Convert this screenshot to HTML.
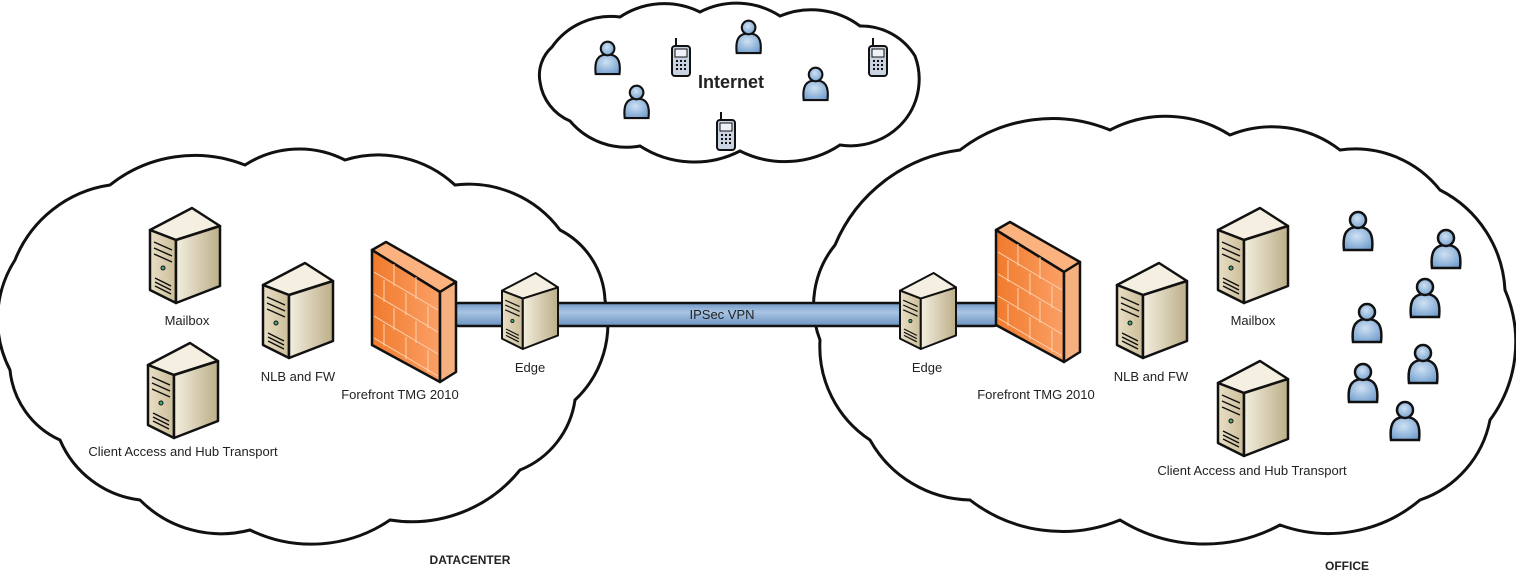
<!DOCTYPE html>
<html><head><meta charset="utf-8"><style>
html,body{margin:0;padding:0;background:#fff;}
svg{display:block;}
text{font-family:"Liberation Sans",sans-serif;font-size:13px;fill:#222;}
</style></head><body>
<svg width="1516" height="576" viewBox="0 0 1516 576" xmlns="http://www.w3.org/2000/svg">
<defs>
<linearGradient id="sf" x1="0" x2="1"><stop offset="0" stop-color="#e9dfc6"/><stop offset="1" stop-color="#cbbd98"/></linearGradient>
<linearGradient id="ss" x1="0" x2="1"><stop offset="0" stop-color="#f3eedf"/><stop offset="1" stop-color="#bcae88"/></linearGradient>
<linearGradient id="ff" x1="0" x2="1"><stop offset="0" stop-color="#f07a2c"/><stop offset="1" stop-color="#fba066"/></linearGradient>
<radialGradient id="pg" cx="0.45" cy="0.4" r="0.7"><stop offset="0" stop-color="#cfe1f3"/><stop offset="1" stop-color="#6d9bcc"/></radialGradient>
<linearGradient id="vp" x1="0" y1="0" x2="0" y2="1"><stop offset="0" stop-color="#6f97c6"/><stop offset="0.4" stop-color="#a9c4e3"/><stop offset="1" stop-color="#6a92c1"/></linearGradient>
<g id="srv" stroke="#111" stroke-width="2.5" stroke-linejoin="round">
<path d="M0 22 L42 0 L70 18 L26 32 Z" fill="#f4efe0"/>
<path d="M0 22 L26 32 L26 95 L0 82 Z" fill="url(#sf)"/>
<path d="M26 32 L70 18 L70 78 L26 95 Z" fill="url(#ss)"/>
<path d="M4 34 L22 42 M4 40 L22 48 M4 46 L22 54 M5 70 L21 78 M5 74 L21 82 M5 78 L21 86" stroke-width="1.5" fill="none"/>
<circle cx="13" cy="60" r="2" fill="#4a7" stroke-width="1"/>
</g>
<g id="fw" stroke="#111" stroke-width="2.5" stroke-linejoin="round">
<path d="M0 0 L14 -8 L84 32 L68 42 Z" fill="#fbb27e"/>
<path d="M0 0 L68 42 L68 132 L0 95 Z" fill="url(#ff)"/>
<path d="M68 42 L84 32 L84 122 L68 132 Z" fill="#f5b080"/>
<path d="M2 22 L66 60 M2 44 L66 82 M2 66 L66 104 M2 88 L66 126 M22 14 L22 36 M44 27 L44 49 M12 30 L12 52 M34 43 L34 65 M56 56 L56 78 M22 58 L22 80 M44 71 L44 93 M12 74 L12 96 M34 87 L34 109 M56 100 L56 122" stroke="#fcd2b0" stroke-width="1" fill="none"/>
</g>
<g id="per" stroke="#111" stroke-width="2.5">
<path d="M2 40 C0 22 6 17 16 17 C26 17 32 22 30 40 Z" fill="url(#pg)"/>
<circle cx="16" cy="10" r="8" fill="url(#pg)"/>
</g>
<g id="ph" stroke="#111" stroke-width="2">
<path d="M6 8 L6 0" fill="none"/>
<rect x="2" y="8" width="18" height="30" rx="3" fill="#c9d3e2"/>
<rect x="5" y="11" width="12" height="8" fill="#eef2f8" stroke-width="1"/>
<path d="M6 23h10M6 27h10M6 31h10" stroke-width="2" stroke-dasharray="2 2"/>
</g>
</defs>
<!-- clouds -->
<path d="M15 260 A121 121 0 0 1 110 185 A136 136 0 0 1 245 165 A100 100 0 0 1 345 160 A113 113 0 0 1 455 185 A114 114 0 0 1 560 230 A83 83 0 0 1 605 300 A104 104 0 0 1 575 400 A89 89 0 0 1 520 470 A139 139 0 0 1 390 520 A140 140 0 0 1 250 530 A114 114 0 0 1 140 500 A100 100 0 0 1 60 440 A86 86 0 0 1 10 370 A110 110 0 0 1 15 260 Z" fill="#fff" stroke="#111" stroke-width="3"/>
<path d="M835 245 A157 157 0 0 1 960 150 A151 151 0 0 1 1110 130 A120 120 0 0 1 1230 135 A111 111 0 0 1 1340 150 A108 108 0 0 1 1440 190 A119 119 0 0 1 1505 290 A131 131 0 0 1 1490 420 A106 106 0 0 1 1420 500 A142 142 0 0 1 1280 525 A160 160 0 0 1 1120 520 A151 151 0 0 1 970 500 A117 117 0 0 1 870 440 A112 112 0 0 1 820 340 A96 96 0 0 1 835 245 Z" fill="#fff" stroke="#111" stroke-width="3"/>
<path d="M552 47 A72 72 0 0 1 620 17 A80 80 0 0 1 700 12 A80 80 0 0 1 780 16 A81 81 0 0 1 860 26 A63 63 0 0 1 915 56 A66 66 0 0 1 905 120 A70 70 0 0 1 840 145 A100 100 0 0 1 740 151 A100 100 0 0 1 640 146 A74 74 0 0 1 570 121 A50 50 0 0 1 540 82 A38 38 0 0 1 552 47 Z" fill="#fff" stroke="#111" stroke-width="3"/>
<!-- VPN pipe -->
<rect x="448" y="303" width="556" height="23" rx="11" fill="url(#vp)" stroke="#111" stroke-width="2.5"/>
<!-- left -->
<use href="#srv" x="150" y="208"/>
<use href="#srv" x="263" y="263"/>
<use href="#srv" x="148" y="343"/>
<use href="#fw" x="372" y="250"/>
<use href="#srv" transform="translate(502,273) scale(0.8)"/>
<!-- right -->
<use href="#srv" transform="translate(900,273) scale(0.8)"/>
<use href="#fw" x="996" y="230"/>
<use href="#srv" x="1117" y="263"/>
<use href="#srv" x="1218" y="208"/>
<use href="#srv" x="1218" y="361"/>
<!-- people -->
<use href="#per" x="1342" y="210"/>
<use href="#per" x="1430" y="228"/>
<use href="#per" x="1409" y="277"/>
<use href="#per" x="1351" y="302"/>
<use href="#per" x="1407" y="343"/>
<use href="#per" x="1347" y="362"/>
<use href="#per" x="1389" y="400"/>
<use href="#per" transform="translate(594,40) scale(0.85)"/>
<use href="#per" transform="translate(735,19) scale(0.85)"/>
<use href="#per" transform="translate(623,84) scale(0.85)"/>
<use href="#per" transform="translate(802,66) scale(0.85)"/>
<use href="#ph" x="670" y="38"/>
<use href="#ph" x="867" y="38"/>
<use href="#ph" x="715" y="112"/>
<!-- labels -->
<text x="187" y="325" text-anchor="middle">Mailbox</text>
<text x="298" y="381" text-anchor="middle">NLB and FW</text>
<text x="183" y="456" text-anchor="middle">Client Access and Hub Transport</text>
<text x="400" y="399" text-anchor="middle">Forefront TMG 2010</text>
<text x="530" y="372" text-anchor="middle">Edge</text>
<text x="722" y="319" text-anchor="middle">IPSec VPN</text>
<text x="927" y="372" text-anchor="middle">Edge</text>
<text x="1036" y="399" text-anchor="middle">Forefront TMG 2010</text>
<text x="1151" y="381" text-anchor="middle">NLB and FW</text>
<text x="1253" y="325" text-anchor="middle">Mailbox</text>
<text x="1252" y="475" text-anchor="middle">Client Access and Hub Transport</text>
<text x="731" y="88" text-anchor="middle" style="font-size:18px;font-weight:bold">Internet</text>
<text x="470" y="564" text-anchor="middle" style="font-size:12px;font-weight:bold">DATACENTER</text>
<text x="1347" y="570" text-anchor="middle" style="font-size:12px;font-weight:bold">OFFICE</text>
</svg>
</body></html>
